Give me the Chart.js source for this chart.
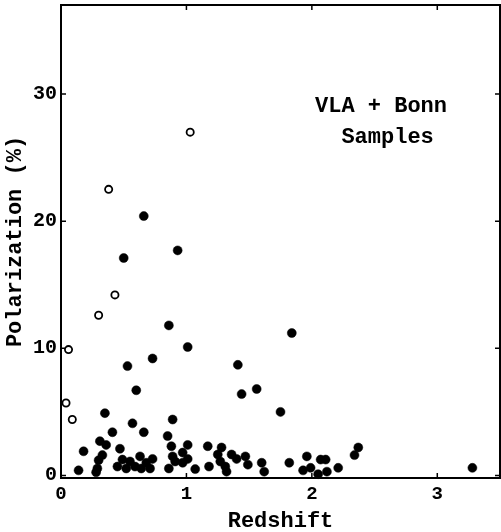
<!DOCTYPE html>
<html>
<head>
<meta charset="utf-8">
<script src="https://cdn.jsdelivr.net/npm/chart.js@4/dist/chart.umd.min.js"></script>
<style>
html,body{margin:0;padding:0;background:#fff;}
#wrap{width:501px;height:532px;}
</style>
</head>
<body>
<div id="wrap"><canvas id="c" width="501" height="532"></canvas></div>
<script>
// Open circles (upper sample)
const openZ = [0.04, 0.06, 0.09, 0.30, 0.38, 0.43, 1.03];
const openP = [5.7, 9.9, 4.4, 12.6, 22.5, 14.2, 27.0];

// Filled dots
const filledZ = [0.66,0.93,0.50,0.86,1.84,1.01,0.73,1.41,0.53,1.56,0.60,1.44,1.75,0.35,0.89,0.57,0.41,0.66,0.85,0.31,
  0.36,0.18,0.47,0.88,1.01,1.17,1.28,0.33,0.30,0.89,0.97,0.91,0.97,1.01,0.14,0.29,0.28,0.45,0.49,0.52,
  0.55,0.59,0.63,0.64,0.68,0.71,0.73,0.86,1.07,1.18,1.25,1.27,1.31,1.32,1.36,1.40,1.47,1.49,1.60,1.62,
  1.82,1.96,1.93,1.99,2.05,2.07,2.11,2.12,2.21,2.34,2.37,3.28];
const filledP = [20.4,17.7,17.1,11.8,11.2,10.1,9.2,8.7,8.6,6.8,6.7,6.4,5.0,4.9,4.4,4.1,3.4,3.4,3.1,2.7,
  2.4,1.9,2.1,2.3,2.4,2.3,2.2,1.6,1.2,1.5,1.8,1.1,1.0,1.3,0.4,0.55,0.25,0.7,1.25,0.55,
  1.1,0.7,1.5,0.55,1.0,0.55,1.3,0.55,0.5,0.7,1.65,1.1,0.7,0.3,1.65,1.3,1.5,0.85,1.0,0.3,
  1.0,1.5,0.4,0.6,0.1,1.25,1.25,0.3,0.6,1.6,2.2,0.6];

const xTicks = [0, 1, 2, 3];
const yTicks = [0, 10, 20, 30];
const xTitle = 'Redshift';
const yTitle = 'Polarization (%)';
const noteLines = ['VLA + Bonn', '  Samples'];

const FAM = '"Liberation Mono", "Courier New", monospace';

const pts = (xs, ys) => xs.map((x, i) => ({x: x, y: ys[i]}));

const framePlugin = {
  id: 'frame',
  beforeDatasetsDraw(chart) {
    const {ctx, chartArea: a, scales} = chart;
    ctx.save();
    ctx.strokeStyle = '#000';
    ctx.lineWidth = 2;
    ctx.strokeRect(a.left, a.top, a.right - a.left, a.bottom - a.top);
    ctx.lineWidth = 1.5;
    const tl = 5;
    ctx.beginPath();
    xTicks.forEach(v => {
      const x = scales.x.getPixelForValue(v);
      if (v > 0) {
        ctx.moveTo(x, a.bottom); ctx.lineTo(x, a.bottom - tl);
        ctx.moveTo(x, a.top); ctx.lineTo(x, a.top + tl);
      }
    });
    yTicks.forEach(v => {
      const y = scales.y.getPixelForValue(v);
      ctx.moveTo(a.left, y); ctx.lineTo(a.left + tl, y);
      ctx.moveTo(a.right, y); ctx.lineTo(a.right - tl, y);
    });
    ctx.stroke();
    ctx.restore();
  },
  afterDraw(chart) {
    const {ctx} = chart;
    ctx.save();
    ctx.fillStyle = '#000';
    ctx.font = 'bold 22px ' + FAM;
    ctx.textBaseline = 'alphabetic';
    ctx.textAlign = 'left';
    ctx.fillText(noteLines[0], 315, 112);
    ctx.fillText(noteLines[1], 315, 143);
    ctx.restore();
  }
};

new Chart(document.getElementById('c'), {
  type: 'scatter',
  data: {
    datasets: [
      {
        label: 'open',
        data: pts(openZ, openP),
        pointStyle: 'circle',
        pointRadius: 3.6,
        borderWidth: 1.8,
        borderColor: '#000',
        backgroundColor: '#fff'
      },
      {
        label: 'open-bar',
        data: pts(openZ, openP),
        pointStyle: 'line',
        pointRadius: 2.2,
        borderWidth: 1.4,
        borderColor: '#000',
        backgroundColor: '#000'
      },
      {
        label: 'filled',
        data: pts(filledZ, filledP),
        pointStyle: 'circle',
        pointRadius: 4.5,
        borderWidth: 0.5,
        borderColor: '#000',
        backgroundColor: '#000'
      }
    ]
  },
  options: {
    responsive: false,
    animation: false,
    events: [],
    layout: {autoPadding: false, padding: {top: 5, right: 1, left: 0, bottom: 0}},
    plugins: {legend: {display: false}, tooltip: {enabled: false}},
    elements: {point: {hoverRadius: 0}},
    clip: false,
    scales: {
      x: {
        type: 'linear',
        min: 0, max: 3.5,
        grid: {display: false, drawTicks: false},
        border: {display: false},
        afterBuildTicks: s => { s.ticks = xTicks.map(v => ({value: v})); },
        afterFit: s => { s.height = 54; s.paddingLeft = 0; s.paddingRight = 0; },
        ticks: {
          color: '#000',
          padding: 5,
          maxRotation: 0,
          font: {family: FAM, size: 19, weight: 'bold'}
        },
        title: {
          display: true,
          text: xTitle,
          color: '#000',
          padding: {top: 0, bottom: 0},
          font: {family: FAM, size: 22, weight: 'bold', lineHeight: 1.0}
        }
      },
      y: {
        type: 'linear',
        min: -0.2, max: 37,
        grid: {display: false, drawTicks: false},
        border: {display: false},
        afterBuildTicks: s => { s.ticks = yTicks.map(v => ({value: v})); },
        afterFit: s => { s.width = 61; s.paddingTop = 0; s.paddingBottom = 0; },
        ticks: {
          color: '#000',
          padding: 4,
          font: {family: FAM, size: 20, weight: 'bold'}
        },
        title: {
          display: true,
          text: yTitle,
          color: '#000',
          padding: {top: 2, bottom: 0},
          font: {family: FAM, size: 22, weight: 'bold', lineHeight: 1.2}
        }
      }
    }
  },
  plugins: [framePlugin]
});
</script>
</body>
</html>
